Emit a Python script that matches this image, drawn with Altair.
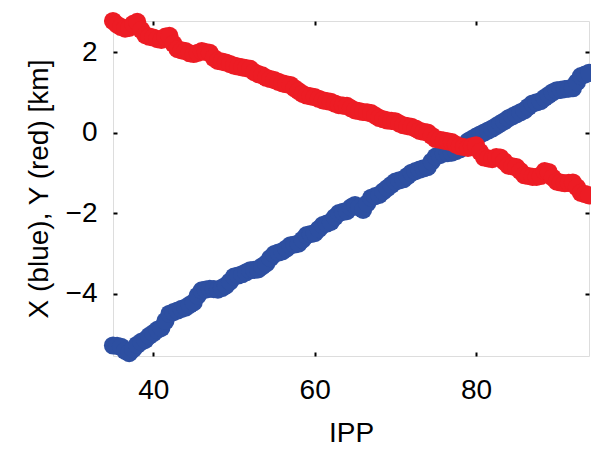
import altair as alt
import pandas as pd

ipp = [35 + 0.5 * k for k in range(119)]

red_y = [2.77, 2.68, 2.62, 2.58, 2.60, 2.70, 2.75, 2.55, 2.42, 2.38,
         2.36, 2.32, 2.30, 2.38, 2.40, 2.20, 2.07, 2.04, 2.02, 1.97,
         1.95, 1.98, 2.02, 2.00, 1.98, 1.85, 1.78, 1.76, 1.74, 1.70,
         1.66, 1.64, 1.62, 1.60, 1.58, 1.50, 1.45, 1.42, 1.36, 1.33,
         1.30, 1.26, 1.22, 1.20, 1.18, 1.10, 1.03, 0.96, 0.92, 0.90,
         0.88, 0.84, 0.80, 0.78, 0.76, 0.72, 0.68, 0.67, 0.66, 0.60,
         0.55, 0.53, 0.51, 0.50, 0.48, 0.42, 0.36, 0.33, 0.30, 0.29,
         0.28, 0.22, 0.18, 0.16, 0.14, 0.10, 0.04, 0.02, 0.00, -0.08,
         -0.16, -0.18, -0.20, -0.22, -0.24, -0.30, -0.34, -0.36, -0.38, -0.34,
         -0.32, -0.48, -0.62, -0.64, -0.66, -0.61, -0.62, -0.72, -0.82, -0.84,
         -0.86, -0.96, -1.06, -1.08, -1.10, -1.10, -1.08, -0.96, -0.98, -1.12,
         -1.22, -1.24, -1.26, -1.25, -1.24, -1.36, -1.50, -1.53, -1.56]

blue_x = [-5.29, -5.30, -5.32, -5.42, -5.48, -5.38, -5.27, -5.20, -5.15, -5.05,
          -4.98, -4.90, -4.85, -4.68, -4.50, -4.46, -4.42, -4.38, -4.35, -4.28,
          -4.22, -4.05, -3.92, -3.90, -3.88, -3.89, -3.90, -3.86, -3.80, -3.70,
          -3.58, -3.55, -3.52, -3.47, -3.42, -3.41, -3.40, -3.32, -3.25, -3.12,
          -3.02, -2.98, -2.95, -2.88, -2.80, -2.78, -2.76, -2.66, -2.55, -2.52,
          -2.50, -2.40, -2.30, -2.26, -2.22, -2.10, -2.00, -1.97, -1.95, -1.86,
          -1.80, -1.86, -1.92, -1.76, -1.62, -1.58, -1.55, -1.46, -1.38, -1.30,
          -1.22, -1.19, -1.16, -1.08, -1.00, -0.96, -0.92, -0.89, -0.86, -0.72,
          -0.60, -0.56, -0.52, -0.51, -0.50, -0.46, -0.42, -0.32, -0.22, -0.16,
          -0.10, -0.05, 0.00, 0.05, 0.10, 0.16, 0.22, 0.28, 0.35, 0.40,
          0.45, 0.50, 0.55, 0.64, 0.72, 0.75, 0.78, 0.86, 0.93, 1.00,
          1.05, 1.06, 1.08, 1.09, 1.10, 1.25, 1.40, 1.44, 1.48]

x_ticks = [40, 60, 80]
y_ticks = [-4, -2, 0, 2]

rows = []
for i, v in zip(ipp, blue_x):
    rows.append({"ipp": i, "val": v, "series": "X (blue)", "ord": 0})
for i, v in zip(ipp, red_y):
    rows.append({"ipp": i, "val": v, "series": "Y (red)", "ord": 1})
df = pd.DataFrame(rows)

FONT = "Liberation Sans"
xs = alt.Scale(domain=[35, 94], nice=False, zero=False)
ys = alt.Scale(domain=[-5.55, 2.77], nice=False, zero=False)

common = dict(grid=False, domain=False, ticks=True, tickSize=4, tickWidth=2,
              tickColor="black", offset=-4)

bottom_axis = alt.Axis(orient="bottom", values=x_ticks, labelFont=FONT, labelFontSize=28,
                       labelColor="black", labelPadding=20, title="IPP", titleFont=FONT,
                       titleFontSize=28, titleFontWeight="normal", titleColor="black",
                       titlePadding=15, **common)
left_axis = alt.Axis(orient="left", values=y_ticks, labelFont=FONT, labelFontSize=28,
                     labelColor="black", labelPadding=16, title="X (blue), Y (red) [km]",
                     titleFont=FONT, titleFontSize=28, titleFontWeight="normal",
                     titleColor="black", titlePadding=12, **common)
top_axis = alt.Axis(orient="top", values=x_ticks, labels=False, title=None, **common)
right_axis = alt.Axis(orient="right", values=y_ticks, labels=False, title=None, **common)

mirror = alt.Chart(df).mark_circle(opacity=0).encode(
    x=alt.X("ipp:Q", scale=xs, axis=top_axis),
    y=alt.Y("val:Q", scale=ys, axis=right_axis),
)

points = alt.Chart(df).mark_circle(size=330, opacity=1, clip=False).encode(
    x=alt.X("ipp:Q", scale=xs, axis=bottom_axis),
    y=alt.Y("val:Q", scale=ys, axis=left_axis),
    color=alt.Color("series:N", scale=alt.Scale(domain=["X (blue)", "Y (red)"],
                                                range=["#2D4FA1", "#ED1C24"]), legend=None),
    order=alt.Order("ord:Q"),
)

chart = alt.layer(mirror, points).resolve_axis(x="independent", y="independent").properties(
    width=476, height=335,
    padding={"left": 113, "top": 21, "right": 2, "bottom": 94},
    autosize=alt.AutoSizeParams(type="none"),
).configure_view(stroke="black", strokeWidth=2.5).configure(background="white")

chart.save("out.html", embed_options={"renderer": "svg", "actions": False})
